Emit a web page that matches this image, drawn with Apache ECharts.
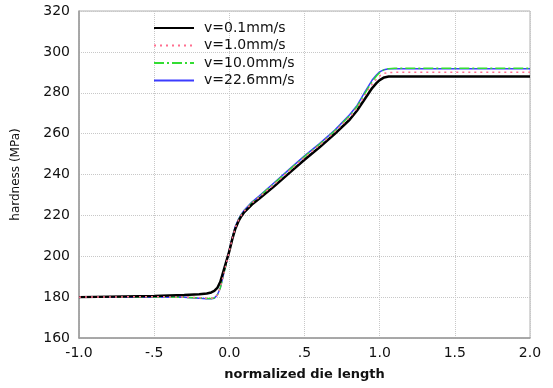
<!DOCTYPE html>
<html>
<head>
<meta charset="utf-8">
<script src="https://cdn.jsdelivr.net/npm/echarts@6/dist/echarts.min.js"></script>
<style>
  html, body { margin: 0; padding: 0; background: #fff; }
  #chart { width: 553px; height: 388px; }
</style>
</head>
<body>
<div id="chart"></div>
<script>
// normalized die length (x) shared by all curves
const xs = [-1.0, -0.5, -0.3, -0.2, -0.15, -0.12, -0.1, -0.08, -0.06, -0.04, -0.02, 0, 0.02, 0.04, 0.06, 0.08, 0.1, 0.15, 0.2, 0.3, 0.4, 0.5, 0.6, 0.7, 0.8, 0.85, 0.9, 0.95, 0.98, 1.0, 1.03, 1.06, 1.1, 1.5, 2.0];

// hardness (MPa) for each speed
const v01 = [180.0, 180.5, 181.0, 181.4, 181.8, 182.3, 183.0, 184.5, 187.5, 192.5, 197.5, 202.5, 208.5, 213.5, 217, 219.6, 221.6, 225.3, 228.2, 234.3, 240.8, 247.2, 253.3, 259.8, 266.8, 271.3, 276.8, 282.3, 284.8, 286.2, 287.5, 287.9, 288, 288, 288];
const v10 = [180.0, 180.2, 180.0, 179.7, 179.5, 179.4, 179.7, 181, 184.5, 190.5, 196.5, 202.5, 208.8, 214, 217.5, 220.1, 222.1, 226, 229, 235.3, 241.8, 248.3, 254.3, 260.8, 268, 272.5, 278.5, 284.2, 286.8, 288.2, 289.5, 289.9, 290, 290, 290];
const v226 = [180.0, 180.1, 179.9, 179.5, 179.2, 179.2, 179.5, 181, 184.5, 190.7, 196.8, 203, 209.3, 214.7, 218, 220.6, 222.6, 226.5, 229.6, 236.1, 242.6, 249.1, 255.1, 261.6, 269.2, 273.8, 280.2, 286.2, 288.8, 290.2, 291.3, 291.7, 291.8, 291.8, 291.8];
const v100 = [180.0, 180.1, 179.9, 179.6, 179.3, 179.3, 179.6, 181, 184.5, 190.5, 196.5, 202.5, 209, 214.3, 217.7, 220.3, 222.3, 226.2, 229.3, 235.8, 242.3, 248.8, 254.8, 261.3, 268.7, 273.3, 279.5, 285.5, 288.3, 289.8, 291.3, 291.8, 292, 292, 292];

const names = ["v=0.1mm/s", "v=1.0mm/s", "v=10.0mm/s", "v=22.6mm/s"];
const xLabels = { "-1": "-1.0", "-0.5": "-.5", "0": "0.0", "0.5": ".5", "1": "1.0", "1.5": "1.5", "2": "2.0" };

const pairs = (ys) => xs.map((x, i) => [x, ys[i]]);

const myChart = echarts.init(document.getElementById("chart"));

const font = "DejaVu Sans";

const option = {
  animation: false,
  grid: {
    left: 79,
    right: 23,
    top: 11,
    bottom: 50,
    show: true,
    borderColor: "#b0b0b0",
    borderWidth: 1
  },
  legend: {
    orient: "vertical",
    left: 153,
    top: 21,
    padding: 0,
    itemWidth: 40,
    itemHeight: 14,
    itemGap: 3.5,
    itemStyle: { opacity: 0 },
    textStyle: { fontFamily: font, fontSize: 14, color: "#111", padding: [0, 0, 0, 5] },
    data: names
  },
  xAxis: {
    type: "value",
    min: -1,
    max: 2,
    interval: 0.5,
    name: "normalized die length",
    nameLocation: "middle",
    nameGap: 30,
    nameTextStyle: { fontFamily: font, fontSize: 13, fontWeight: "bold", color: "#111" },
    axisLine: { onZero: false, lineStyle: { color: "#999", width: 1.5 } },
    axisTick: { show: false },
    axisLabel: {
      fontFamily: font,
      fontSize: 14,
      color: "#111",
      margin: 8,
      formatter: (v) => xLabels[String(v)] ?? v
    },
    splitLine: { lineStyle: { color: "#c8c8c8", type: "dotted" } }
  },
  yAxis: {
    type: "value",
    min: 160,
    max: 320,
    interval: 20,
    name: "hardness (MPa)",
    nameLocation: "middle",
    nameGap: 57,
    nameTextStyle: { fontFamily: font, fontSize: 12, color: "#111" },
    axisLine: { show: true, onZero: false, lineStyle: { color: "#999", width: 1.5 } },
    axisTick: { show: false },
    axisLabel: { fontFamily: font, fontSize: 14, color: "#111", margin: 9 },
    splitLine: { lineStyle: { color: "#c8c8c8", type: "dotted" } }
  },
  series: [
    {
      name: names[0],
      type: "line",
      data: pairs(v01),
      symbol: "none",
      z: 4,
      lineStyle: { color: "#000", width: 2.5 },
      itemStyle: { color: "#000" }
    },
    {
      name: names[1],
      type: "line",
      data: pairs(v10),
      symbol: "none",
      z: 5,
      lineStyle: { color: "#ff6f8f", width: 1.5, type: [2, 4] },
      itemStyle: { color: "#ff6f8f" }
    },
    {
      name: names[2],
      type: "line",
      data: pairs(v100),
      symbol: "none",
      z: 3,
      lineStyle: { color: "#33dd33", width: 1.5, type: [10, 3, 2, 3] },
      itemStyle: { color: "#33dd33" }
    },
    {
      name: names[3],
      type: "line",
      data: pairs(v226),
      symbol: "none",
      z: 2,
      lineStyle: { color: "#3c3cff", width: 1.5 },
      itemStyle: { color: "#3c3cff" }
    }
  ]
};

myChart.setOption(option);
</script>
</body>
</html>
